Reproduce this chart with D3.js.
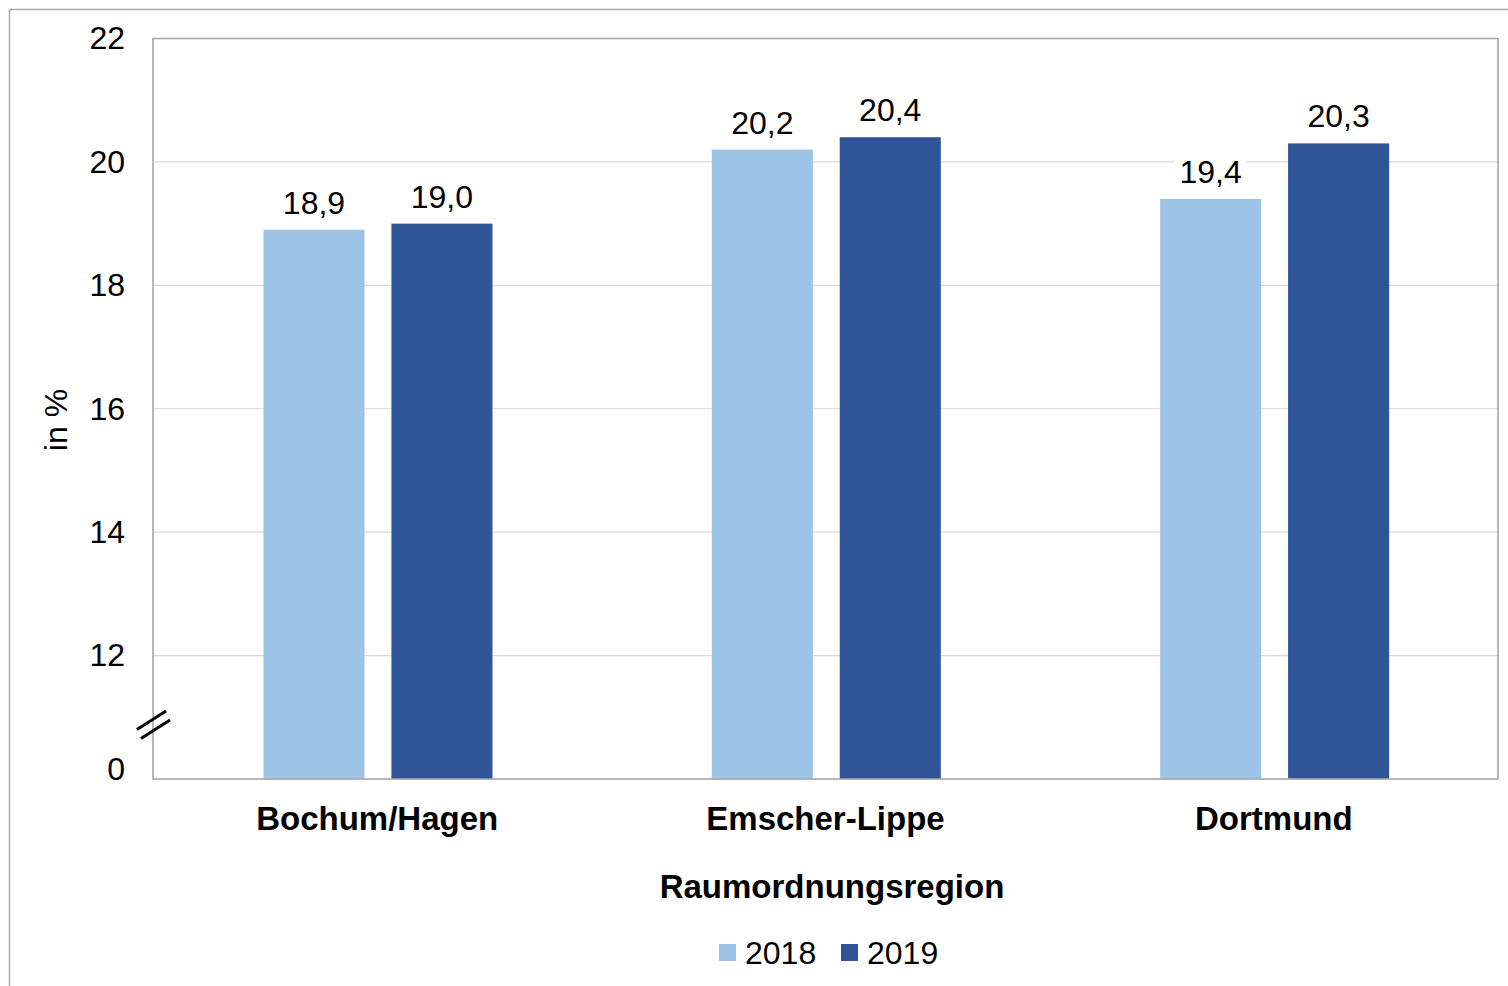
<!DOCTYPE html>
<html><head><meta charset="utf-8">
<script src="https://cdn.jsdelivr.net/npm/d3@7"></script>
<style>html,body{margin:0;padding:0;background:#fff;}svg{display:block;font-family:"Liberation Sans",Arial,sans-serif;}</style>
</head><body>
<script>
const categories = ["Bochum/Hagen", "Emscher-Lippe", "Dortmund"];
const series = ["2018", "2019"];
const values2018 = [18.9, 20.2, 19.4];
const values2019 = [19.0, 20.4, 20.3];
const yTicks = [12, 14, 16, 18, 20, 22];
const yBreakLabel = "0";
const colors = ["#9DC3E6", "#2F5597"];

const W = 1508, H = 986;
const svg = d3.select("body").append("svg").attr("width", W).attr("height", H);
const m = {left: 153, top: 38.5, right: 1498, bottom: 779};

// outer frame
svg.append("path").attr("d", `M9.5,${H} V9.5 H${W}`).attr("fill","none").attr("stroke","#ababab").attr("stroke-width",1.5);

const x0 = d3.scaleBand().domain(categories).range([m.left, m.right]).paddingInner(0).paddingOuter(0);
const x1 = d3.scaleBand().domain(series).range([0, 229]).paddingInner(0.21);
const y = d3.scaleLinear().domain([10, 22]).range([m.bottom, m.top]);

// gridlines
svg.append("g").selectAll("line").data(yTicks.filter(t => t < 22)).join("line")
  .attr("x1", m.left).attr("x2", m.right).attr("y1", d => y(d)).attr("y2", d => y(d))
  .attr("stroke", "#d9d9d9").attr("stroke-width", 1.2);

const data = categories.map((c, i) => ({cat: c, vals: [values2018[i], values2019[i]]}));
const groups = svg.append("g").selectAll("g").data(data).join("g")
  .attr("transform", d => `translate(${x0(d.cat) + x0.bandwidth()/2 - 113.7},0)`);

groups.selectAll("rect").data(d => d.vals.map((v, j) => ({s: series[j], v, j}))).join("rect")
  .attr("x", d => x1(d.s)).attr("width", x1.bandwidth())
  .attr("y", d => y(d.v)).attr("height", d => y(10) - y(d.v))
  .attr("fill", d => colors[d.j]);

const fmt = v => d3.format(".1f")(v).replace(".", ",");
const lbl = groups.selectAll("g.lbl").data(d => d.vals.map((v, j) => ({s: series[j], v, j}))).join("g").attr("class","lbl");
lbl.append("rect")
  .attr("x", d => x1(d.s) + x1.bandwidth()/2 - 36).attr("width", 72)
  .attr("y", d => y(d.v) - 42).attr("height", 32).attr("fill", "#fff");
lbl.append("text")
  .attr("x", d => x1(d.s) + x1.bandwidth()/2).attr("y", d => y(d.v) - 16)
  .attr("text-anchor", "middle").attr("font-size", 32).attr("fill", "#000")
  .text(d => fmt(d.v));

// plot border
svg.append("rect").attr("x", m.left).attr("y", m.top).attr("width", m.right - m.left).attr("height", m.bottom - m.top)
  .attr("fill", "none").attr("stroke", "#a6a6a6").attr("stroke-width", 1.6);

// y tick labels
const yAxis = d3.axisLeft(y).tickValues(yTicks).tickSize(0).tickPadding(0).tickFormat(d3.format("d"));
const ya = svg.append("g").attr("transform", `translate(125,0)`).call(yAxis);
ya.select(".domain").remove();
ya.selectAll("text").attr("font-size", 32).attr("font-family", '"Liberation Sans",Arial,sans-serif').attr("fill", "#000");
svg.append("text").attr("x", 125).attr("y", y(10) - 10).attr("dy", "0.35em").attr("text-anchor", "end")
  .attr("font-size", 32).attr("fill", "#000").text(yBreakLabel);

// break marks
svg.append("line").attr("x1", 137).attr("y1", 729.5).attr("x2", 166).attr("y2", 711).attr("stroke", "#000").attr("stroke-width", 3);
svg.append("line").attr("x1", 141).attr("y1", 738.5).attr("x2", 170).attr("y2", 720).attr("stroke", "#000").attr("stroke-width", 3);

// category labels
const xAxis = d3.axisBottom(x0).tickSize(0).tickPadding(0);
const xa = svg.append("g").attr("transform", `translate(0,830)`).call(xAxis);
xa.select(".domain").remove();
xa.selectAll("text").attr("dy", 0).attr("font-size", 33).attr("font-weight", "bold")
  .attr("font-family", '"Liberation Sans",Arial,sans-serif').attr("fill", "#000");

// axis titles
svg.append("text").attr("x", 832).attr("y", 898).attr("text-anchor", "middle")
  .attr("font-size", 33).attr("font-weight", "bold").text("Raumordnungsregion");
svg.append("text").attr("transform", "translate(67,420) rotate(-90)").attr("text-anchor", "middle")
  .attr("font-size", 32).text("in %");

// legend
const leg = svg.append("g");
const legX = [719, 841];
series.forEach((s, i) => {
  leg.append("rect").attr("x", legX[i]).attr("y", 944).attr("width", 17).attr("height", 17).attr("fill", colors[i]);
  leg.append("text").attr("x", legX[i] + 26).attr("y", 964).attr("font-size", 32).text(s);
});
</script>
</body></html>
